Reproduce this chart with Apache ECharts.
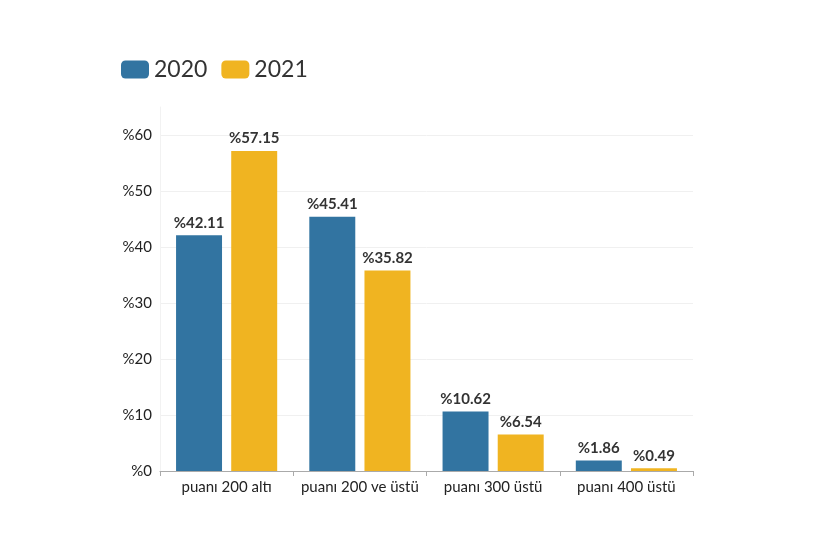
<!DOCTYPE html>
<html><head><meta charset="utf-8">
<script src="https://cdn.jsdelivr.net/npm/echarts@6/dist/echarts.min.js"></script>
<style>html,body{margin:0;padding:0;background:#fff}#c{width:840px;height:560px}</style>
</head><body><div id="c"></div>
<script>
var categories = ['puanı 200 altı', 'puanı 200 ve üstü', 'puanı 300 üstü', 'puanı 400 üstü'];
var series2020 = [42.11, 45.41, 10.62, 1.86];
var series2021 = [57.15, 35.82, 6.54, 0.49];
var yTicks = [0, 10, 20, 30, 40, 50, 60];

var chart = echarts.init(document.getElementById('c'));
var font = 'Lato, "Noto Sans", sans-serif';
chart.setOption({
  animation: false,
  textStyle: {fontFamily: font},
  legend: {
    left: 116, top: 53,
    itemWidth: 28, itemHeight: 18, itemGap: 14,
    icon: 'roundRect',
    textStyle: {fontSize: 23, color: '#333', fontFamily: font},
    data: ['2020', '2021']
  },
  grid: {left: 160, right: 147, top: 107, bottom: 89},
  xAxis: {
    type: 'category', data: categories,
    axisLine: {lineStyle: {color: '#aaa'}},
    axisTick: {show: true, lineStyle: {color: '#aaa'}, length: 5},
    axisLabel: {interval: 0, fontSize: 15, color: '#222', margin: 9, fontFamily: font}
  },
  yAxis: {
    type: 'value', min: 0, max: 65, interval: 10,
    axisLine: {show: true, lineStyle: {color: '#f2f2f2'}},
    axisTick: {show: false},
    axisLabel: {
      fontSize: 15, color: '#222', margin: 8, showMaxLabel: false, fontFamily: font,
      formatter: function (v) { return yTicks.indexOf(v) >= 0 ? '%' + v : ''; }
    },
    splitLine: {lineStyle: {color: ['#f0f0f0','#f0f0f0','#f0f0f0','#f0f0f0','#f0f0f0','#f0f0f0','#f0f0f0','rgba(0,0,0,0)']}}
  },
  series: [
    {name: '2020', type: 'bar', data: series2020, barWidth: '34.5%', barGap: '20%',
     itemStyle: {color: '#3274a1'},
     label: {show: true, position: 'top', distance: 5, fontSize: 15, fontWeight: 'bold', color: '#333', fontFamily: font,
             formatter: function (p) { return '%' + p.value.toFixed(2); }}},
    {name: '2021', type: 'bar', data: series2021, barWidth: '34.5%',
     itemStyle: {color: '#f0b421'},
     label: {show: true, position: 'top', distance: 5, fontSize: 15, fontWeight: 'bold', color: '#333', fontFamily: font,
             formatter: function (p) { return '%' + p.value.toFixed(2); }}}
  ]
});
</script></body></html>
